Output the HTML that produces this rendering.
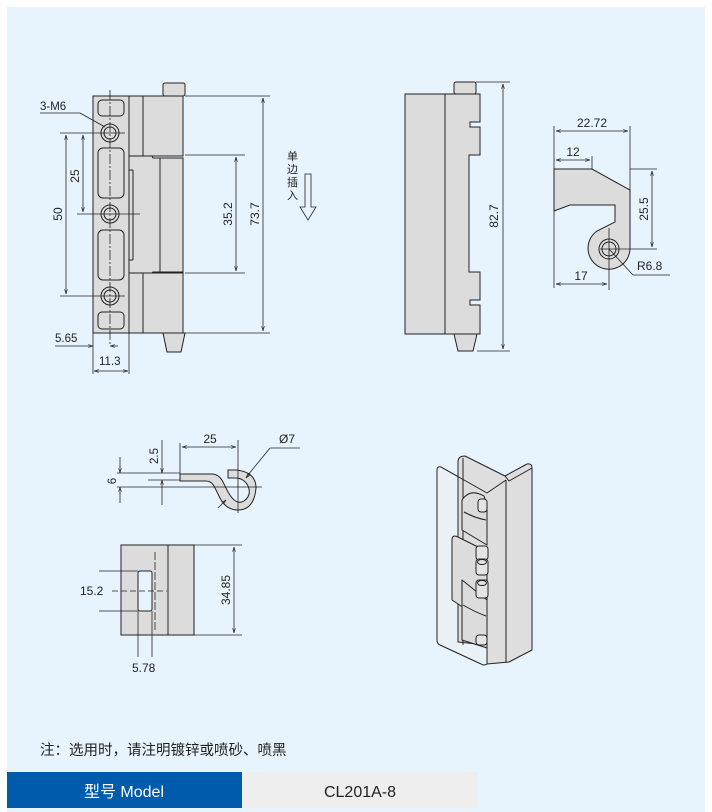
<!DOCTYPE html>
<html><head><meta charset="utf-8"><style>
html,body{margin:0;padding:0;background:#fff;width:712px;height:812px;overflow:hidden}
svg{display:block}
text{font-family:"Liberation Sans","Noto Sans CJK SC",sans-serif;fill:#222}
</style></head><body>
<svg width="712" height="812" viewBox="0 0 712 812" xmlns="http://www.w3.org/2000/svg">
<defs>
<marker id="a" viewBox="0 0 10 10" refX="10" refY="5" markerWidth="6" markerHeight="6" orient="auto-start-reverse"><path d="M0,2 L10,5 L0,8" fill="none" stroke="#222" stroke-width="1.2"/></marker>
</defs>
<rect x="7" y="7" width="698" height="805" fill="#e8f4fd"/>
<g stroke="#222" stroke-width="1" fill="#dcdcdc">
<rect x="163" y="83" width="22" height="13" rx="2"/>
<path d="M163,333 L185,333 L181,352 L167,352 Z"/>
<rect x="93" y="96" width="36" height="237"/>
<rect x="129" y="96" width="14" height="60"/>
<rect x="143" y="96" width="40" height="60"/>
<rect x="129" y="273" width="14" height="60"/>
<rect x="143" y="273" width="40" height="60"/>
<path d="M129,156 L152,156 L153,158 L160,158 L160,272 L153,272 L152,273 L129,273 Z"/>
<rect x="160" y="158" width="23" height="114"/>
<path d="M133,170 L133,260 M129,170 L133,170 M129,260 L133,260" fill="none"/>
<g fill="#dcdcdc">
<rect x="98" y="100" width="26" height="16" rx="4"/>
<rect x="98" y="148" width="26" height="50" rx="5"/>
<rect x="98" y="230" width="26" height="50" rx="5"/>
<rect x="98" y="312" width="26" height="17" rx="4"/>
<circle cx="110" cy="133" r="9"/><circle cx="110" cy="133" r="6"/>
<circle cx="110" cy="214" r="9"/><circle cx="110" cy="214" r="6"/>
<circle cx="110" cy="296" r="9"/><circle cx="110" cy="296" r="6"/>
</g>
</g>
<g stroke="#222" stroke-width="0.8" fill="none">
<line x1="110" y1="90" x2="110" y2="345" stroke-dasharray="10,2,2,2"/>
<line x1="60" y1="133" x2="125" y2="133"/>
<line x1="60" y1="296" x2="125" y2="296"/>
<line x1="77" y1="214" x2="140" y2="214"/>
<line x1="40" y1="113" x2="80" y2="113"/><line x1="80" y1="113" x2="105" y2="127"/>
<line x1="66" y1="135" x2="66" y2="294" marker-start="url(#a)" marker-end="url(#a)"/>
<line x1="83" y1="135" x2="83" y2="212" marker-start="url(#a)" marker-end="url(#a)"/>
<line x1="185" y1="155" x2="245" y2="155"/><line x1="185" y1="273" x2="245" y2="273"/>
<line x1="236" y1="157" x2="236" y2="271" marker-start="url(#a)" marker-end="url(#a)"/>
<line x1="185" y1="96" x2="270" y2="96"/><line x1="185" y1="333" x2="270" y2="333"/>
<line x1="263" y1="98" x2="263" y2="331" marker-start="url(#a)" marker-end="url(#a)"/>
<line x1="93" y1="333" x2="93" y2="374"/><line x1="129" y1="333" x2="129" y2="374"/>
<line x1="94" y1="371" x2="128" y2="371" marker-start="url(#a)" marker-end="url(#a)"/>
<line x1="55" y1="346" x2="93" y2="346" marker-end="url(#a)"/><line x1="118" y1="346" x2="110" y2="346" marker-end="url(#a)"/>
<path d="M305,174 L311,174 L311,207 L316,207 L308,220 L300,207 L305,207 Z"/>
</g>
<text x="40" y="110" font-size="11.5">3-M6</text>
<text x="79" y="176" font-size="12" transform="rotate(-90 79 176)" text-anchor="middle">25</text>
<text x="62" y="214" font-size="12" transform="rotate(-90 62 214)" text-anchor="middle">50</text>
<text x="232" y="214" font-size="12" transform="rotate(-90 232 214)" text-anchor="middle">35.2</text>
<text x="259" y="214" font-size="12" transform="rotate(-90 259 214)" text-anchor="middle">73.7</text>
<text x="55" y="342" font-size="11.5">5.65</text>
<text x="99" y="365" font-size="11.5">11.3</text>
<g font-size="11"><text x="287" y="160">单</text><text x="287" y="173">边</text><text x="287" y="186">插</text><text x="287" y="199">入</text></g>
<!-- View 2 -->
<g stroke="#222" stroke-width="1" fill="#dcdcdc">
<rect x="454" y="82" width="22" height="12" rx="2"/>
<path d="M454,334 L477,334 L473,351 L458,351 Z"/>
<rect x="405" y="94" width="40" height="240"/>
<path d="M445,94 L480,94 L480,122 L470,122 L470,127 L480,127 L480,155 L469,155 L469,272 L480,272 L480,300 L470,300 L470,305 L480,305 L480,334 L445,334 Z"/>
</g>
<g stroke="#222" stroke-width="0.8" fill="none">
<line x1="476" y1="82" x2="510" y2="82"/><line x1="477" y1="351" x2="510" y2="351"/>
<line x1="503" y1="84" x2="503" y2="349" marker-start="url(#a)" marker-end="url(#a)"/>
</g>
<text x="498" y="216" font-size="12" transform="rotate(-90 498 216)" text-anchor="middle">82.7</text>
<!-- Side view -->
<g stroke="#222" stroke-width="1" fill="#dcdcdc">
<path d="M554,169 L592,169 L630,190 L630,249 A21,21 0 1 1 597,231 L615,222 L615,205 L570,205 L554,211 Z"/>
<circle cx="609" cy="249" r="10" /><circle cx="609" cy="249" r="7"/>
</g>
<g stroke="#222" stroke-width="0.8" fill="none">
<line x1="554" y1="126" x2="554" y2="288"/><line x1="630" y1="126" x2="630" y2="190"/>
<line x1="556" y1="131" x2="628" y2="131" marker-start="url(#a)" marker-end="url(#a)"/>
<line x1="592" y1="156" x2="592" y2="169"/>
<line x1="556" y1="160" x2="590" y2="160" marker-start="url(#a)" marker-end="url(#a)"/>
<line x1="630" y1="169" x2="657" y2="169"/><line x1="600" y1="249" x2="657" y2="249"/>
<line x1="652" y1="171" x2="652" y2="247" marker-start="url(#a)" marker-end="url(#a)"/>
<line x1="609" y1="228" x2="609" y2="290"/>
<line x1="556" y1="284" x2="607" y2="284" marker-start="url(#a)" marker-end="url(#a)"/>
<line x1="609" y1="249" x2="633" y2="275"/><line x1="633" y1="275" x2="670" y2="275"/>
</g>
<text x="592" y="127" font-size="12" text-anchor="middle">22.72</text>
<text x="573" y="156" font-size="12" text-anchor="middle">12</text>
<text x="648" y="209" font-size="12" transform="rotate(-90 648 209)" text-anchor="middle">25.5</text>
<text x="581" y="280" font-size="12" text-anchor="middle">17</text>
<text x="637" y="270" font-size="12">R6.8</text>
<!-- Profile -->
<g stroke="#222" stroke-width="1" fill="#dcdcdc">
<path d="M180,474 L212,474 Q218,474 222,480 L228,492 Q236,506 244,501 Q252,495 248,486 Q244,478 235,478 L228,478 L228,470 L236,470 Q256,472 256,488 Q254,510 238,510 Q226,510 220,498 L214,486 Q211,481 206,481 L180,481 Z"/>
</g>
<g stroke="#222" stroke-width="0.8" fill="none">
<line x1="117" y1="473" x2="180" y2="473"/><line x1="117" y1="487" x2="262" y2="487"/>
<line x1="148" y1="480" x2="180" y2="480"/>
<line x1="120" y1="457" x2="120" y2="473" marker-end="url(#a)"/><line x1="120" y1="503" x2="120" y2="487" marker-end="url(#a)"/>
<line x1="162" y1="440" x2="162" y2="473" marker-end="url(#a)"/><line x1="162" y1="505" x2="162" y2="480" marker-end="url(#a)"/>
<line x1="180" y1="443" x2="180" y2="474"/><line x1="238" y1="440" x2="238" y2="513"/>
<line x1="182" y1="447" x2="236" y2="447" marker-start="url(#a)" marker-end="url(#a)"/>
<line x1="218" y1="508" x2="226" y2="500" marker-end="url(#a)"/>
<line x1="248" y1="475" x2="270" y2="448"/><line x1="270" y1="448" x2="300" y2="448"/>
<line x1="250" y1="473" x2="246" y2="478" marker-end="url(#a)"/>
</g>
<text x="116" y="481" font-size="11.5" transform="rotate(-90 116 481)" text-anchor="middle">6</text>
<text x="158" y="456" font-size="11.5" transform="rotate(-90 158 456)" text-anchor="middle">2.5</text>
<text x="210" y="443" font-size="12" text-anchor="middle">25</text>
<text x="279" y="443" font-size="12">Ø7</text>
<!-- Front rect -->
<g stroke="#222" stroke-width="1" fill="#dcdcdc">
<rect x="121" y="545" width="47" height="90"/>
<rect x="168" y="545" width="26" height="90"/>
<rect x="138" y="571" width="14" height="40" rx="2" fill="#e8f4fd"/>
</g>
<g stroke="#222" stroke-width="0.8" fill="none">
<line x1="155" y1="552" x2="155" y2="630" stroke-dasharray="8,2"/>
<line x1="99" y1="571" x2="138" y2="571"/><line x1="99" y1="611" x2="138" y2="611"/>
<line x1="112" y1="591" x2="167" y2="591" stroke-dasharray="6,3"/>
<line x1="138" y1="611" x2="138" y2="657"/><line x1="152" y1="611" x2="152" y2="657"/>
<line x1="194" y1="545" x2="242" y2="545"/><line x1="194" y1="635" x2="242" y2="635"/>
<line x1="234" y1="547" x2="234" y2="633" marker-start="url(#a)" marker-end="url(#a)"/>
</g>
<text x="80" y="595" font-size="12">15.2</text>
<text x="132" y="672" font-size="12">5.78</text>
<text x="230" y="590" font-size="12" transform="rotate(-90 230 590)" text-anchor="middle">34.85</text>
<!-- Iso -->
<g stroke="#222" stroke-width="1" stroke-linejoin="round">
<!-- left plate (behind) -->
<path d="M437,470 Q437,466 441,467 L487,493 L487,664 Q484,666 481,664 L440,645 Q437,644 437,640 Z" fill="#eaf2f8"/>
<!-- back channel -->
<path d="M458,462 Q458,456 465,456 L505,476 L527,464 Q532,463 532,468 L532,650 L509,662 L487,664 L487,645 L458,642 Z" fill="#dedede"/>
<path d="M463,458 L463,645" fill="none"/>
<path d="M506,480 L506,662" fill="none"/>
<path d="M505,476 L509,481 L532,468" fill="none"/>
<path d="M441,467 L487,493 L506,480" fill="none"/>
<!-- hinge leaves -->
<path d="M462,500 Q470,488 484,496 L487,505 L487,545 L462,530 Z" fill="#dcdcdc"/>
<path d="M464,512 Q475,518 486,520" fill="none"/>
<path d="M452,540 Q452,534 458,537 L476,546 L487,548 L487,612 L470,612 L452,600 Z" fill="#dcdcdc"/>
<path d="M462,580 L462,640 L487,648 L487,600 Z" fill="#dcdcdc"/>
<path d="M463,605 Q475,612 486,616" fill="none"/>
<rect x="478" y="499" width="9" height="13" rx="3" fill="#e4e4e4"/>
<rect x="476" y="546" width="12" height="14" rx="3" fill="#e4e4e4"/>
<rect x="476" y="559" width="12" height="16" rx="3" fill="#e4e4e4"/><ellipse cx="482" cy="562" rx="4.5" ry="2.5" fill="#e4e4e4"/>
<rect x="476" y="580" width="12" height="18" rx="3" fill="#e4e4e4"/><ellipse cx="482" cy="583" rx="4.5" ry="2.5" fill="#e4e4e4"/>
<rect x="476" y="635" width="11" height="10" rx="3" fill="#e4e4e4"/>
</g>
<!-- Note & table -->
<text x="40" y="755" font-size="14.5">注：选用时，请注明镀锌或喷砂、喷黑</text>
<rect x="7" y="772" width="235" height="36" fill="#005bac"/>
<rect x="242" y="772" width="236" height="36" fill="#eeeeee"/>
<text x="124" y="797" font-size="16" text-anchor="middle" style="fill:#fff">型号 Model</text>
<text x="360" y="797" font-size="16" text-anchor="middle">CL201A-8</text>
</svg>
</body></html>
